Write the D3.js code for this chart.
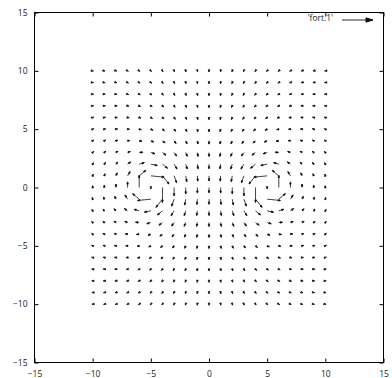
<!DOCTYPE html>
<html lang="en">
<head>
<meta charset="UTF-8">
<title>Vector field with d3 and SVG</title>
<script src="https://d3js.org/d3.v7.min.js" charset="utf-8"></script>
<style>
    body { margin: 0; background: #fff; }
    svg { display: block; }
    .axis text { font-family: 'Open Sans', sans-serif; font-size: 8.5px; fill: #222; }
    .axis line { stroke: #000; }
    .legend text { font-family: 'Open Sans', sans-serif; font-size: 8.5px; fill: #222; }
</style>
</head>
<body>
<div id="chart"></div>
<script>
    // grid of the data file 'fort.1' : one row per y, from y = 10 down to y = -10
    var xs = [-10, -9, -8, -7, -6, -5, -4, -3, -2, -1, 0, 1, 2, 3, 4, 5, 6, 7, 8, 9, 10];
    var ys = [10, 9, 8, 7, 6, 5, 4, 3, 2, 1, 0, -1, -2, -3, -4, -5, -6, -7, -8, -9, -10];

    // x component of every vector
    var dx = [
        [.057,.060,.063,.063,.062,.058,.050,.040,.028,.015,0,-.015,-.028,-.040,-.050,-.058,-.062,-.063,-.063,-.060,-.057],
        [.064,.069,.074,.076,.075,.071,.062,.050,.035,.018,0,-.018,-.035,-.050,-.062,-.071,-.075,-.076,-.074,-.069,-.064],
        [.072,.080,.087,.091,.092,.088,.078,.063,.045,.023,0,-.023,-.045,-.063,-.078,-.088,-.092,-.091,-.087,-.080,-.072],
        [.079,.091,.102,.110,.114,.110,.099,.081,.057,.029,0,-.029,-.057,-.081,-.099,-.110,-.114,-.110,-.102,-.091,-.079],
        [.087,.103,.120,.135,.143,.141,.128,.104,.072,.037,0,-.037,-.072,-.104,-.128,-.141,-.143,-.135,-.120,-.103,-.087],
        [.092,.114,.139,.164,.182,.184,.167,.133,.091,.046,0,-.046,-.091,-.133,-.167,-.184,-.182,-.164,-.139,-.114,-.092],
        [.093,.122,.159,.201,.237,.248,.223,.173,.113,.055,0,-.055,-.113,-.173,-.223,-.248,-.237,-.201,-.159,-.122,-.093],
        [.087,.121,.173,.243,.319,.352,.307,.219,.132,.061,0,-.061,-.132,-.219,-.307,-.352,-.319,-.243,-.173,-.121,-.087],
        [.069,.104,.163,.271,.442,.553,.432,.254,.134,.058,0,-.058,-.134,-.254,-.432,-.553,-.442,-.271,-.163,-.104,-.069],
        [.039,.062,.108,.222,.566,1.139,.561,.213,.092,.037,0,-.037,-.092,-.213,-.561,-1.139,-.566,-.222,-.108,-.062,-.039],
        [0,0,0,0,0,0,0,0,0,0,0,0,0,0,0,0,0,0,0,0,0],
        [-.039,-.062,-.108,-.222,-.566,-1.139,-.561,-.213,-.092,-.037,0,.037,.092,.213,.561,1.139,.566,.222,.108,.062,.039],
        [-.069,-.104,-.163,-.271,-.442,-.553,-.432,-.254,-.134,-.058,0,.058,.134,.254,.432,.553,.442,.271,.163,.104,.069],
        [-.087,-.121,-.173,-.243,-.319,-.352,-.307,-.219,-.132,-.061,0,.061,.132,.219,.307,.352,.319,.243,.173,.121,.087],
        [-.093,-.122,-.159,-.201,-.237,-.248,-.223,-.173,-.113,-.055,0,.055,.113,.173,.223,.248,.237,.201,.159,.122,.093],
        [-.092,-.114,-.139,-.164,-.182,-.184,-.167,-.133,-.091,-.046,0,.046,.091,.133,.167,.184,.182,.164,.139,.114,.092],
        [-.087,-.103,-.120,-.135,-.143,-.141,-.128,-.104,-.072,-.037,0,.037,.072,.104,.128,.141,.143,.135,.120,.103,.087],
        [-.079,-.091,-.102,-.110,-.114,-.110,-.099,-.081,-.057,-.029,0,.029,.057,.081,.099,.110,.114,.110,.102,.091,.079],
        [-.072,-.080,-.087,-.091,-.092,-.088,-.078,-.063,-.045,-.023,0,.023,.045,.063,.078,.088,.092,.091,.087,.080,.072],
        [-.064,-.069,-.074,-.076,-.075,-.071,-.062,-.050,-.035,-.018,0,.018,.035,.050,.062,.071,.075,.076,.074,.069,.064],
        [-.057,-.060,-.063,-.063,-.062,-.058,-.050,-.040,-.028,-.015,0,.015,.028,.040,.050,.058,.062,.063,.063,.060,.057]
    ];

    // y component of every vector
    var dy = [
        [-.007,-.015,-.024,-.035,-.046,-.058,-.069,-.078,-.086,-.090,-.092,-.090,-.086,-.078,-.069,-.058,-.046,-.035,-.024,-.015,-.007],
        [-.002,-.011,-.022,-.034,-.049,-.063,-.078,-.091,-.100,-.106,-.108,-.106,-.100,-.091,-.078,-.063,-.049,-.034,-.022,-.011,-.002],
        [.005,-.004,-.017,-.033,-.051,-.070,-.089,-.106,-.118,-.127,-.129,-.127,-.118,-.106,-.089,-.070,-.051,-.033,-.017,-.004,.005],
        [.015,.005,-.009,-.028,-.051,-.077,-.103,-.125,-.141,-.152,-.155,-.152,-.141,-.125,-.103,-.077,-.051,-.028,-.009,.005,.015],
        [.028,.019,.004,-.019,-.050,-.085,-.120,-.150,-.171,-.184,-.189,-.184,-.171,-.150,-.120,-.085,-.050,-.019,.004,.019,.028],
        [.046,.039,.024,-.002,-.042,-.092,-.141,-.183,-.210,-.225,-.230,-.225,-.210,-.183,-.141,-.092,-.042,-.002,.024,.039,.046],
        [.069,.068,.057,.029,-.025,-.099,-.175,-.230,-.262,-.276,-.281,-.276,-.262,-.230,-.175,-.099,-.025,.029,.057,.068,.069],
        [.095,.105,.108,.087,.018,-.105,-.230,-.302,-.330,-.337,-.338,-.337,-.330,-.302,-.230,-.105,.018,.087,.108,.105,.095],
        [.123,.150,.179,.194,.129,-.111,-.352,-.423,-.417,-.403,-.397,-.403,-.417,-.423,-.352,-.111,.129,.194,.179,.150,.123],
        [.145,.189,.258,.365,.472,-.114,-.702,-.601,-.506,-.457,-.443,-.457,-.506,-.601,-.702,-.114,.472,.365,.258,.189,.145],
        [.153,.206,.294,.480,1.045,-.115,-1.278,-.719,-.547,-.480,-.460,-.480,-.547,-.719,-1.278,-.115,1.045,.480,.294,.206,.153],
        [.145,.189,.258,.365,.472,-.114,-.702,-.601,-.506,-.457,-.443,-.457,-.506,-.601,-.702,-.114,.472,.365,.258,.189,.145],
        [.123,.150,.179,.194,.129,-.111,-.352,-.423,-.417,-.403,-.397,-.403,-.417,-.423,-.352,-.111,.129,.194,.179,.150,.123],
        [.095,.105,.108,.087,.018,-.105,-.230,-.302,-.330,-.337,-.338,-.337,-.330,-.302,-.230,-.105,.018,.087,.108,.105,.095],
        [.069,.068,.057,.029,-.025,-.099,-.175,-.230,-.262,-.276,-.281,-.276,-.262,-.230,-.175,-.099,-.025,.029,.057,.068,.069],
        [.046,.039,.024,-.002,-.042,-.092,-.141,-.183,-.210,-.225,-.230,-.225,-.210,-.183,-.141,-.092,-.042,-.002,.024,.039,.046],
        [.028,.019,.004,-.019,-.050,-.085,-.120,-.150,-.171,-.184,-.189,-.184,-.171,-.150,-.120,-.085,-.050,-.019,.004,.019,.028],
        [.015,.005,-.009,-.028,-.051,-.077,-.103,-.125,-.141,-.152,-.155,-.152,-.141,-.125,-.103,-.077,-.051,-.028,-.009,.005,.015],
        [.005,-.004,-.017,-.033,-.051,-.070,-.089,-.106,-.118,-.127,-.129,-.127,-.118,-.106,-.089,-.070,-.051,-.033,-.017,-.004,.005],
        [-.002,-.011,-.022,-.034,-.049,-.063,-.078,-.091,-.100,-.106,-.108,-.106,-.100,-.091,-.078,-.063,-.049,-.034,-.022,-.011,-.002],
        [-.007,-.015,-.024,-.035,-.046,-.058,-.069,-.078,-.086,-.090,-.092,-.090,-.086,-.078,-.069,-.058,-.046,-.035,-.024,-.015,-.007]
    ];

    var xTicks = [-15, -10, -5, 0, 5, 10, 15];
    var yTicks = [-15, -10, -5, 0, 5, 10, 15];
    var seriesName = "'fort.1'";

    var svgwidth = 392;
    var svgheight = 378;
    var plotLeft = 34.5, plotRight = 383.5, plotTop = 12.5, plotBottom = 362.5;

    var svg = d3.select('#chart').append('svg')
        .attr('width', svgwidth)
        .attr('height', svgheight);

    var x = d3.scaleLinear().domain([-15, 15]).range([plotLeft, plotRight]);
    var y = d3.scaleLinear().domain([-15, 15]).range([plotBottom, plotTop]);

    // axes: ticks point inwards, mirrored on top and right
    svg.append('g').attr('class', 'axis')
        .attr('transform', 'translate(0,' + plotBottom + ')')
        .call(d3.axisBottom(x).tickValues(xTicks).tickSizeInner(-4).tickSizeOuter(0).tickPadding(8.5))
        .call(g => g.select('.domain').remove());
    svg.append('g').attr('class', 'axis')
        .attr('transform', 'translate(0,' + plotTop + ')')
        .call(d3.axisTop(x).tickValues(xTicks).tickSizeInner(-4).tickSizeOuter(0).tickFormat(''))
        .call(g => g.select('.domain').remove());
    svg.append('g').attr('class', 'axis')
        .attr('transform', 'translate(' + plotLeft + ',0)')
        .call(d3.axisLeft(y).tickValues(yTicks).tickSizeInner(-4).tickSizeOuter(0).tickPadding(7))
        .call(g => g.select('.domain').remove());
    svg.append('g').attr('class', 'axis')
        .attr('transform', 'translate(' + plotRight + ',0)')
        .call(d3.axisRight(y).tickValues(yTicks).tickSizeInner(-4).tickSizeOuter(0).tickFormat(''))
        .call(g => g.select('.domain').remove());

    // frame
    svg.append('rect')
        .attr('x', plotLeft).attr('y', plotTop)
        .attr('width', plotRight - plotLeft).attr('height', plotBottom - plotTop)
        .attr('fill', 'none').attr('stroke', '#000').attr('stroke-width', 1);

    // flatten the grid into vectors
    var vectors = [];
    ys.forEach(function(yv, j) {
        xs.forEach(function(xv, i) {
            vectors.push({ x: xv, y: yv, dx: dx[j][i], dy: dy[j][i] });
        });
    });

    // arrow path: shaft plus small filled head at the tip
    function arrowPath(x1, y1, x2, y2, headLen, headHalf) {
        var a = Math.atan2(y2 - y1, x2 - x1);
        var c = Math.cos(a), s = Math.sin(a);
        var bx = x2 - headLen * c, by = y2 - headLen * s;
        return 'M' + x1 + ',' + y1 + 'L' + x2 + ',' + y2 +
            'M' + x2 + ',' + y2 +
            'L' + (bx - headHalf * s) + ',' + (by + headHalf * c) +
            'L' + (bx + headHalf * s) + ',' + (by - headHalf * c) + 'Z';
    }

    svg.append('g')
        .selectAll('path')
        .data(vectors)
        .enter().append('path')
        .attr('d', d => arrowPath(x(d.x), y(d.y), x(d.x + d.dx), y(d.y + d.dy), 2.2, 0.8))
        .attr('fill', '#111')
        .attr('stroke', '#111')
        .attr('stroke-width', 0.8);

    // key
    var legend = svg.append('g').attr('class', 'legend');
    legend.append('text')
        .attr('x', 333)
        .attr('y', 18)
        .attr('dy', '0.35em')
        .attr('text-anchor', 'end')
        .text(seriesName);
    legend.append('path')
        .attr('d', arrowPath(342, 20, 373, 20, 7, 2.2))
        .attr('fill', '#111')
        .attr('stroke', '#111')
        .attr('stroke-width', 0.9);
</script>
</body>
</html>
